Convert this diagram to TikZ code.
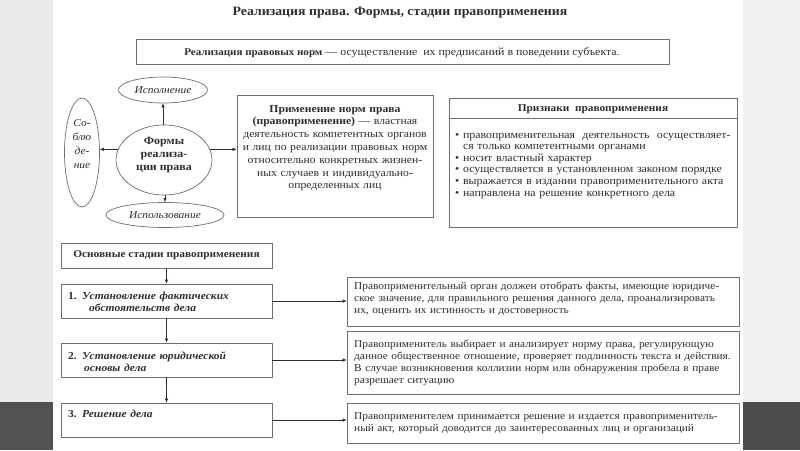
\documentclass[tikz,border=0pt]{standalone}
\usepackage{fontspec}
\setmainfont{Liberation Serif}[FakeStretch=1.08]
\usetikzlibrary{arrows.meta,shapes.geometric}
\definecolor{tx}{HTML}{2E2E2E}
\definecolor{bd}{HTML}{6E6E6E}
\definecolor{sideL}{HTML}{EAEAEA}
\definecolor{sideR}{HTML}{F0F0F0}
\definecolor{darkL}{HTML}{525252}
\definecolor{darkR}{HTML}{4C4C4C}
\begin{document}
\begin{tikzpicture}[x=1pt,y=-1pt,
  every node/.style={text=tx, inner sep=0pt},
  frame/.style={draw=bd, line width=0.7pt, rectangle},
  oval/.style={draw=bd, line width=0.7pt, ellipse},
  rtxt/.style={font=\fontsize{10.5}{12.3}\selectfont, anchor=base west, align=left, text width=385},
  stxt/.style={font=\bfseries\itshape\fontsize{10.7}{12.7}\selectfont, anchor=base west, align=left, text width=200},
  conn/.style={draw=tx, line width=0.6pt, -{Latex[length=4pt,width=3.5pt]}}
]
\useasboundingbox (0,0) rectangle (800,450);
% slide background
\fill[sideL] (0,0) rectangle (53,402);
\fill[darkL] (0,402) rectangle (53,450);
\fill[white] (53,0) rectangle (743,450);
\fill[sideR] (743,0) rectangle (800,402);
\fill[darkR] (743,402) rectangle (800,450);

% title
\node[anchor=base, font=\bfseries\fontsize{12.8}{14}\selectfont] (title) at (400,15.5) {Реализация права. Формы, стадии правоприменения};

% top definition box
\node[frame, minimum width=533, minimum height=25] (def) at (402.5,51.5) {};
\node[anchor=base, font=\fontsize{11}{13}\selectfont] (deftx) at (402,55) {{\bfseries\fontsize{10.2}{13}\selectfont Реализация правовых норм} — осуществление\ \ их предписаний в поведении субъекта.};

% forms of realization
\node[oval, minimum width=96, minimum height=70] (forms) at (164,160) {};
\node[font=\bfseries\fontsize{11.1}{13}\selectfont, align=center] (formstx) at (164,155) {Формы\\реализа-\\ции права};
\node[oval, minimum width=89, minimum height=26, font=\itshape\fontsize{10.6}{12}\selectfont] (isp) at (163,90) {Исполнение};
\node[oval, minimum width=118, minimum height=25, font=\itshape\fontsize{10.6}{12}\selectfont] (ispz) at (165,215) {Использование};
\node[oval, minimum width=35, minimum height=109] (sobl) at (82,152.5) {};
\node[font=\itshape\fontsize{10.6}{13.7}\selectfont, align=center] (sobltx) at (82,144) {Со-\\блю\\де-\\ние};

% application box
\node[frame, minimum width=196, minimum height=122] (prim) at (335,156) {};
\node[font=\fontsize{10.8}{12.8}\selectfont, anchor=base, align=center, text width=196] (primtx) at (335,112) {\textbf{Применение норм права}\\\textbf{(правоприменение)} — властная\\деятельность компетентных органов\\и лиц по реализации правовых норм\\относительно конкретных жизнен-\\ных случаев и индивидуально-\\определенных лиц};

\draw[conn] (isp.south |- forms.north) -- (isp.south);
\draw[conn] (ispz.north |- forms.south) -- (ispz.north);
\draw[conn] (forms.167) -- (forms.167 -| sobl.east);
\draw[conn] (forms.13) -- (forms.13 -| prim.west);

% signs box
\node[frame, minimum width=288, minimum height=129] (sign) at (593,162.5) {};
\node[anchor=base, font=\bfseries\fontsize{10.5}{12}\selectfont] (signhd) at (593,111) {Признаки\ \ правоприменения};
\coordinate (sepy) at (0,118);
\draw[bd, line width=0.7pt] (sign.west |- sepy) -- (sign.east |- sepy);
\node[anchor=base west, font=\fontsize{11}{11.6}\selectfont, text width=282, align=left] (signtx) at (455,138) {%
\textbullet\ правоприменительная\ \ деятельность\ \ осуществляет-\\
\hphantom{\textbullet\ }ся только компетентными органами\\
\textbullet\ носит властный характер\\
\textbullet\ осуществляется в установленном законом порядке\\
\textbullet\ выражается в издании правоприменительного акта\\
\textbullet\ направлена на решение конкретного дела};

% stages
\node[frame, minimum width=211, minimum height=25, font=\bfseries\fontsize{10.5}{12}\selectfont] (stages) at (166.5,255.5) {Основные стадии правоприменения};
\node[frame, minimum width=211, minimum height=34] (s1) at (166.5,301) {};
\node[frame, minimum width=211, minimum height=34] (s2) at (166.5,360) {};
\node[frame, minimum width=211, minimum height=34] (s3) at (166.5,420) {};
\node[stxt] (s1tx) at (68,299) {{\upshape 1.} Установление фактических\\\hspace*{21pt}обстоятельств дела};
\node[stxt] (s2tx) at (68,359) {{\upshape 2.} Установление юридической\\\hspace*{16pt}основы дела};
\node[stxt] (s3tx) at (68,417) {{\upshape 3.} Решение дела};

\draw[conn] (stages.south) -- (s1.north);
\draw[conn] (s1.south) -- (s2.north);
\draw[conn] (s2.south) -- (s3.north);

% right description boxes
\node[frame, minimum width=392, minimum height=49] (r1) at (543,301.5) {};
\node[frame, minimum width=392, minimum height=63] (r2) at (543,362.5) {};
\node[frame, minimum width=392, minimum height=40] (r3) at (543,423) {};
\node[rtxt] (r1tx) at (354,289) {Правоприменительный орган должен отобрать факты, имеющие юридиче-\\ское значение, для правильного решения данного дела, проанализировать\\их, оценить их истинность и достоверность};
\node[rtxt] (r2tx) at (354,347) {Правоприменитель выбирает и анализирует норму права, регулирующую\\данное общественное отношение, проверяет подлинность текста и действия.\\В случае возникновения коллизии норм или обнаружения пробела в праве\\разрешает ситуацию};
\node[rtxt] (r3tx) at (354,419) {Правоприменителем принимается решение и издается правоприменитель-\\ный акт, который доводится до заинтересованных лиц и организаций};

\draw[conn] (s1.east) -- (s1.east -| r1.west);
\draw[conn] (s2.east) -- (s2.east -| r2.west);
\draw[conn] (s3.east) -- (s3.east -| r3.west);
\end{tikzpicture}
\end{document}
